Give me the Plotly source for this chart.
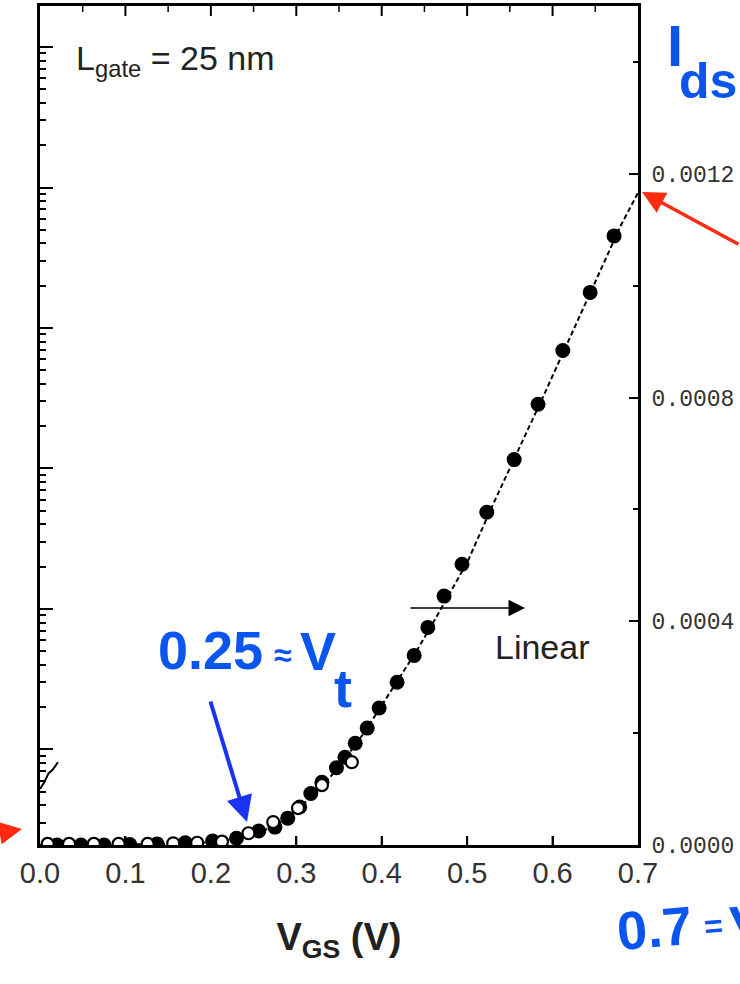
import plotly.graph_objects as go

# ---- data ----
vgs_filled = [0.020, 0.048, 0.075, 0.105, 0.137, 0.170, 0.202, 0.230, 0.256, 0.275,
              0.290, 0.304, 0.317, 0.330, 0.347, 0.357, 0.369, 0.383, 0.397, 0.418,
              0.438, 0.454, 0.473, 0.494, 0.523, 0.555, 0.583, 0.612, 0.644, 0.672]
ids_filled = [0.0, 0.0, 0.0, 0.000001, 0.000002, 0.000004, 0.000007, 0.000012, 0.000025, 0.000032,
              0.000048, 0.000068, 0.000092, 0.000112, 0.000138, 0.000157, 0.000182, 0.000209, 0.000245, 0.000291,
              0.000339, 0.000389, 0.000445, 0.000502, 0.000595, 0.000689, 0.000788, 0.000884, 0.000988, 0.001089]

vgs_open = [0.009, 0.034, 0.063, 0.092, 0.126, 0.156, 0.184, 0.213, 0.244, 0.273, 0.302, 0.330, 0.365]
ids_open = [0.000002, 0.000002, 0.000002, 0.000002, 0.000002, 0.000003, 0.000004, 0.000006,
            0.000021, 0.000041, 0.000066, 0.000107, 0.000148]

vgs_model = [0.00, 0.05, 0.10, 0.15, 0.20, 0.22, 0.24, 0.26, 0.28, 0.30, 0.32, 0.34, 0.36, 0.38,
             0.40, 0.42, 0.44, 0.46, 0.48, 0.50, 0.53, 0.56, 0.59, 0.62, 0.65, 0.68, 0.70]
ids_model = [0.0, 0.0, 0.000001, 0.000002, 0.000005, 0.000008, 0.000014, 0.000024, 0.000040, 0.000062,
             0.000090, 0.000122, 0.000160, 0.000202, 0.000250, 0.000296, 0.000345, 0.000397, 0.000450,
             0.000505, 0.000608, 0.000706, 0.000805, 0.000906, 0.001006, 0.001108, 0.001166]

vgs_fragment = [0.000, 0.005, 0.010, 0.015, 0.021]
ids_fragment = [0.000100, 0.000112, 0.000128, 0.000135, 0.000148]

x_ticks = [0.0, 0.1, 0.2, 0.3, 0.4, 0.5, 0.6, 0.7]
x_ticklabels = ["0.0", "0.1", "0.2", "0.3", "0.4", "0.5", "0.6", "0.7"]
x_minor_ticks = [0.05, 0.15, 0.25, 0.35, 0.45, 0.55, 0.65]
y_ticks = [0.0, 0.0004, 0.0008, 0.0012]
y_ticklabels = ["0.0000", "0.0004", "0.0008", "0.0012"]

BLUE_TXT = "#0a55ee"
BLUE_ARW = "#1a33f2"
RED = "#ff2a10"
HAND = "Liberation Sans, Arial, sans-serif"

fig = go.Figure()

fig.add_trace(go.Scatter(x=vgs_model, y=ids_model, mode="lines",
                         line=dict(color="black", width=2, dash="5px,3px"),
                         showlegend=False, hoverinfo="skip"))
fig.add_trace(go.Scatter(x=vgs_fragment, y=ids_fragment, mode="lines",
                         line=dict(color="black", width=2),
                         showlegend=False, hoverinfo="skip"))
fig.add_trace(go.Scatter(x=vgs_filled, y=ids_filled, mode="markers",
                         marker=dict(symbol="circle", size=15, color="black"),
                         showlegend=False))
fig.add_trace(go.Scatter(x=vgs_open, y=ids_open, mode="markers",
                         marker=dict(symbol="circle", size=12, color="white",
                                     line=dict(color="black", width=2.2)),
                         showlegend=False))
# empty trace so the left (log) axis is built and drawn
fig.add_trace(go.Scatter(x=[], y=[], xaxis="x", yaxis="y2", showlegend=False, hoverinfo="skip"))

fig.update_layout(
    width=740, height=984,
    margin=dict(l=40, r=102, t=6, b=139),
    paper_bgcolor="white", plot_bgcolor="white",
    xaxis=dict(range=[0, 0.7], tickvals=x_ticks, ticktext=x_ticklabels,
               ticks="inside", ticklen=9, tickwidth=2, tickcolor="black", mirror=True,
               showline=True, linewidth=3, linecolor="black", showgrid=False, zeroline=False,
               tickfont=dict(family="Liberation Sans, Arial, sans-serif", size=29, color="#333"),
               title=dict(text="<b>V<sub>GS</sub> (V)</b>",
                          font=dict(family="Liberation Sans, Arial, sans-serif", size=38, color="#222"),
                          standoff=36),
               automargin=False),
    yaxis=dict(range=[0, 0.0015], side="right", tickvals=y_ticks, ticktext=y_ticklabels,
               ticks="inside", ticklen=9, tickwidth=2, tickcolor="black",
               minor=dict(tickvals=[0.0002, 0.0006, 0.0010, 0.0014], ticks="inside",
                          ticklen=5, tickwidth=1.5, tickcolor="black"),
               showline=True, linewidth=3, linecolor="black", showgrid=False, zeroline=False,
               tickfont=dict(family="Liberation Mono, DejaVu Sans Mono, monospace", size=23, color="#333"),
               ticklabelstandoff=6, automargin=False),
    yaxis2=dict(type="log", range=[-8.68, -2.708], overlaying="y", side="left", anchor="x",
                dtick=1, showticklabels=False,
                ticks="inside", ticklen=13, tickwidth=1.5, tickcolor="black",
                minor=dict(ticks="inside", ticklen=6, tickwidth=1.5, tickcolor="black"),
                showline=True, linewidth=3, linecolor="black", showgrid=False, zeroline=False),
)

# tick marks along the bottom and the top frame, placed on the x scale
PLOT_H = 839.0
shapes = []
for v in x_ticks[1:-1]:
    shapes.append(dict(type="line", xref="x", yref="paper", x0=v, x1=v, y0=0, y1=9 / PLOT_H,
                       line=dict(color="black", width=2), layer="above"))
    shapes.append(dict(type="line", xref="x", yref="paper", x0=v, x1=v, y0=1, y1=1 - 10 / PLOT_H,
                       line=dict(color="black", width=2), layer="above"))
for v in x_minor_ticks:
    shapes.append(dict(type="line", xref="x", yref="paper", x0=v, x1=v, y0=1, y1=1 - 6 / PLOT_H,
                       line=dict(color="black", width=1.5), layer="above"))
fig.update_layout(shapes=shapes)

def px(x):
    return (x - 40) / 598.0

def py(y):
    return (845 - y) / 839.0

def note(x, y, text, size, color, family=HAND, angle=0, xanchor="center"):
    return dict(x=px(x), y=py(y), xref="paper", yref="paper", xanchor=xanchor, yanchor="middle",
                text=text, showarrow=False, textangle=angle,
                font=dict(family=family, size=size, color=color))

def arrow(x, y, ax, ay, width, color, size):
    return dict(x=px(x), y=py(y), xref="paper", yref="paper", text="", showarrow=True,
                ax=ax, ay=ay, arrowhead=2, arrowsize=size, arrowwidth=width, arrowcolor=color)

ann = [
    note(74, 61, "L<sub>gate</sub> = 25 nm", 34, "#222", xanchor="left"),
    note(542, 647, "Linear", 34, "#222"),
    arrow(525, 608, -116, 0, 1.5, "black", 2.2),
    note(675, 46, "<b>I</b>", 58, BLUE_TXT),
    note(708, 81, "<b>ds</b>", 50, BLUE_TXT),
    note(211, 650, "<b>0.25</b>", 54, BLUE_TXT),
    note(283, 655, "<b>≈</b>", 32, BLUE_TXT),
    note(318, 651, "<b>V</b>", 54, BLUE_TXT),
    note(343, 688, "<b>t</b>", 54, BLUE_TXT),
    note(654, 928, "<b>0.7</b>", 54, BLUE_TXT, angle=-5),
    note(713, 926, "<b>=</b>", 32, BLUE_TXT, angle=-5),
    note(725, 924, "<b>V</b>", 54, BLUE_TXT, angle=-5, xanchor="left"),
    arrow(247, 822, -37, -122, 4, BLUE_ARW, 1.3),
    arrow(642, 192, 103, 53, 3.5, RED, 1.3),
    arrow(22, 829, -70, 4, 3.5, RED, 1.3),
]

fig.update_layout(annotations=ann)
fig.write_html("out.html", config={"displayModeBar": False},
               post_script="document.body.style.margin='0';")
